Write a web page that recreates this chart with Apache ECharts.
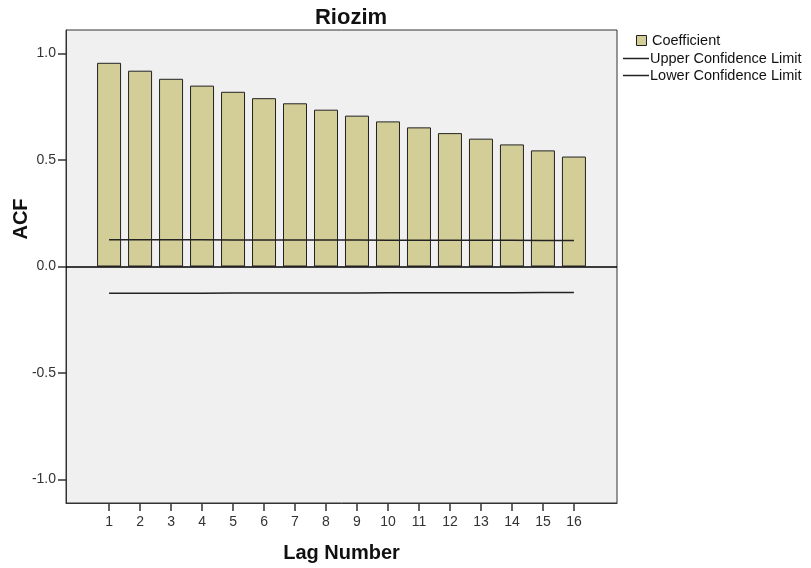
<!DOCTYPE html>
<html><head><meta charset="utf-8">
<script src="https://cdn.jsdelivr.net/npm/echarts@6/dist/echarts.min.js"></script>
<style>html,body{margin:0;padding:0;background:#fff;}#c{width:811px;height:568px;}</style>
</head><body><div id="c"></div>
<script>
const chartTitle = 'Riozim';
const xAxisTitle = 'Lag Number';
const yAxisTitle = 'ACF';
const legendLabels = ['Coefficient', 'Upper Confidence Limit', 'Lower Confidence Limit'];
const lags = [1, 2, 3, 4, 5, 6, 7, 8, 9, 10, 11, 12, 13, 14, 15, 16];
const acfValues = [0.956, 0.919, 0.881, 0.849, 0.820, 0.790, 0.766, 0.736, 0.708, 0.681, 0.653, 0.626, 0.600, 0.573, 0.545, 0.516];
const upperLimit = [0.125, 0.125, 0.125, 0.125, 0.124, 0.124, 0.124, 0.124, 0.124, 0.123, 0.123, 0.123, 0.123, 0.123, 0.122, 0.122];
const lowerLimit = [-0.125, -0.125, -0.125, -0.125, -0.124, -0.124, -0.124, -0.124, -0.124, -0.123, -0.123, -0.123, -0.123, -0.123, -0.122, -0.122];
const yTicks = [-1.0, -0.5, 0.0, 0.5, 1.0];

const FONT = "'Liberation Sans', Arial, sans-serif";
const BAR_COLOR = '#d3ce97';
const chart = echarts.init(document.getElementById('c'), null, {renderer: 'canvas'});

const option = {
  animation: false,
  backgroundColor: '#ffffff',
  title: {
    text: chartTitle, left: 346, top: 2, textAlign: 'center',
    textStyle: {fontFamily: FONT, fontWeight: 'bold', fontSize: 22, color: '#111'}
  },
  grid: {
    left: 66, right: 194, top: 30, bottom: 64, show: true,
    backgroundColor: '#f0f0f0', borderColor: '#333', borderWidth: 1
  },
  xAxis: {
    type: 'value', min: -0.39, max: 17.39,
    axisLine: {show: true, onZero: false, lineStyle: {color: '#333', width: 1}},
    axisTick: {show: true, customValues: lags, length: 8, lineStyle: {color: '#333', width: 1.5}},
    axisLabel: {customValues: lags, margin: 12, fontFamily: FONT, fontSize: 14, color: '#333'},
    splitLine: {show: false},
    name: xAxisTitle, nameLocation: 'middle', nameGap: 40,
    nameTextStyle: {fontFamily: FONT, fontWeight: 'bold', fontSize: 20, color: '#111'}
  },
  yAxis: {
    type: 'value', min: -1.11, max: 1.11,
    axisLine: {show: true, onZero: false, lineStyle: {color: '#333', width: 1}},
    axisTick: {show: true, customValues: yTicks, length: 8, lineStyle: {color: '#333', width: 1.5}},
    axisLabel: {customValues: yTicks, margin: 10, fontFamily: FONT, fontSize: 14, color: '#333',
      formatter: v => Number(v).toFixed(1)},
    splitLine: {show: false}
  },
  graphic: [
    {type: 'text', x: 21, y: 219, rotation: Math.PI / 2,
      style: {text: yAxisTitle, fontFamily: FONT, fontWeight: 'bold', fontSize: 20, fill: '#111',
        textAlign: 'center', textVerticalAlign: 'middle'}},
    {type: 'rect', shape: {x: 636.5, y: 35.5, width: 10, height: 10},
      style: {fill: BAR_COLOR, stroke: '#222', lineWidth: 1}},
    {type: 'text', x: 652, y: 40.5,
      style: {text: legendLabels[0], fontFamily: FONT, fontSize: 14.5, fill: '#111', textAlign: 'left', textVerticalAlign: 'middle'}},
    {type: 'line', shape: {x1: 623, y1: 58.5, x2: 649, y2: 58.5}, style: {stroke: '#222', lineWidth: 1.5}},
    {type: 'text', x: 650, y: 58.5,
      style: {text: legendLabels[1], fontFamily: FONT, fontSize: 14.5, fill: '#111', textAlign: 'left', textVerticalAlign: 'middle'}},
    {type: 'line', shape: {x1: 623, y1: 75.5, x2: 649, y2: 75.5}, style: {stroke: '#222', lineWidth: 1.5}},
    {type: 'text', x: 650, y: 75.5,
      style: {text: legendLabels[2], fontFamily: FONT, fontSize: 14.5, fill: '#111', textAlign: 'left', textVerticalAlign: 'middle'}}
  ],
  series: [
    {
      name: legendLabels[0], type: 'bar', barWidth: 24, z: 2,
      data: lags.map((l, i) => [l, acfValues[i]]),
      itemStyle: {color: BAR_COLOR, borderColor: '#222', borderWidth: 1},
      markLine: {silent: true, symbol: ['none', 'none'], label: {show: false},
        lineStyle: {color: '#000', width: 1.5, type: 'solid'}, data: [{yAxis: 0}]}
    },
    {
      name: legendLabels[1], type: 'line', z: 3, symbol: 'none', showSymbol: false,
      data: lags.map((l, i) => [l, upperLimit[i]]),
      lineStyle: {color: '#222', width: 1.5}
    },
    {
      name: legendLabels[2], type: 'line', z: 3, symbol: 'none', showSymbol: false,
      data: lags.map((l, i) => [l, lowerLimit[i]]),
      lineStyle: {color: '#222', width: 1.5}
    }
  ]
};
chart.setOption(option);
</script>
</body></html>
